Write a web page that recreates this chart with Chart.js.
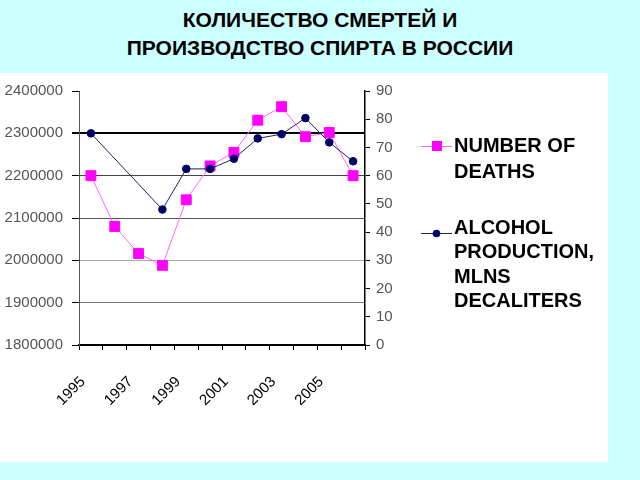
<!DOCTYPE html>
<html><head><meta charset="utf-8">
<script src="https://cdn.jsdelivr.net/npm/chart.js@4"></script>
<style>
html,body{margin:0;padding:0;background:#ccffff;width:640px;height:480px;overflow:hidden}
#title{position:absolute;left:0;top:6px;width:640px;text-align:center;font:bold 21px "Liberation Sans",Arial,sans-serif;line-height:28px;color:#000}
#panel{position:absolute;left:0;top:73px;width:608px;height:389px;background:#fff}
canvas{position:absolute;left:0;top:0}
</style></head><body>
<div id="title">КОЛИЧЕСТВО СМЕРТЕЙ И<br>ПРОИЗВОДСТВО СПИРТА В РОССИИ</div>
<div id="panel"><canvas id="c" width="608" height="389"></canvas></div>
<script>
const years = ['1995','1996','1997','1998','1999','2000','2001','2002','2003','2004','2005','2006'];
const deaths = [2200000, 2080000, 2016000, 1988000, 2143000, 2223000, 2255000, 2331000, 2363000, 2292000, 2302000, 2200000];
const alcohol = [75, null, null, 48, 62.4, 62.4, 66, 73.2, 74.7, 80.4, 71.8, 65.1];
const deathsLegend = ['NUMBER OF', 'DEATHS'];
const alcoholLegend = ['ALCOHOL', 'PRODUCTION,', 'MLNS', 'DECALITERS'];

const PINK = '#ff00ff', NAVY = '#000066';

const gridColor = (v) => {
  if (v === 2400000) return 'rgba(0,0,0,0)';
  if (v === 2300000) return '#000';
  if (v === 2200000) return '#444';
  if (v === 2100000) return '#555';
  if (v === 2000000) return '#aaa';
  if (v === 1900000) return '#777';
  return '#000';
};

const legendPlugin = {
  id: 'customLegend',
  afterDraw(chart) {
    const ctx = chart.ctx;
    const entries = [
      {lines: deathsLegend, y: 73, color: '#ff66ff', fill: PINK, style: 'rect'},
      {lines: alcoholLegend, y: 160, color: '#202060', fill: NAVY, style: 'circle'}
    ];
    ctx.save();
    entries.forEach(e => {
      ctx.strokeStyle = e.color; ctx.lineWidth = 1;
      ctx.beginPath(); ctx.moveTo(421, e.y + 0.5); ctx.lineTo(452, e.y + 0.5); ctx.stroke();
      ctx.fillStyle = e.fill;
      if (e.style === 'rect') { ctx.fillRect(432, e.y - 5, 10, 10); }
      else { ctx.beginPath(); ctx.arc(436.5, e.y + 0.5, 3.8, 0, Math.PI * 2); ctx.fill(); }
      ctx.fillStyle = '#000';
      ctx.font = 'bold 20px "Liberation Sans", Arial, sans-serif';
      ctx.textBaseline = 'middle'; ctx.textAlign = 'left';
      const top = e.style === 'rect' ? e.y : e.y - 5;
      const lh = e.style === 'rect' ? 26 : 24.5;
      e.lines.forEach((t, i) => ctx.fillText(t, 454, top + i * lh));
    });
    ctx.restore();
  }
};

new Chart(document.getElementById('c'), {
  type: 'line',
  data: {
    labels: years,
    datasets: [
      {
        label: alcoholLegend.join(' '),
        data: alcohol,
        yAxisID: 'y2',
        borderColor: '#202060',
        backgroundColor: NAVY,
        pointBackgroundColor: NAVY,
        pointBorderColor: NAVY,
        borderWidth: 1,
        pointStyle: 'circle',
        pointRadius: 3.8,
        spanGaps: true,
        segment: { borderColor: c => (c.p0DataIndex === 0 ? '#808080' : undefined) }
      },
      {
        label: deathsLegend.join(' '),
        data: deaths,
        yAxisID: 'y',
        borderColor: '#ff66ff',
        backgroundColor: PINK,
        pointBackgroundColor: PINK,
        pointBorderColor: PINK,
        borderWidth: 1,
        pointStyle: 'rect',
        pointRadius: 7
      }
    ]
  },
  options: {
    responsive: false,
    animation: false,
    devicePixelRatio: 1,
    layout: { padding: { top: 17, left: 0, right: 213, bottom: 0 } },
    plugins: { legend: { display: false }, tooltip: { enabled: false } },
    elements: { line: { tension: 0 } },
    scales: {
      x: {
        offset: true,
        grid: { offset: true, drawOnChartArea: false, color: '#000', tickLength: 5 },
        border: { color: '#000', width: 1.5 },
        ticks: {
          autoSkip: false, minRotation: 45, maxRotation: 45,
          padding: 23, labelOffset: -8,
          color: '#000',
          font: { family: '"Liberation Sans", Arial, sans-serif', size: 15 },
          callback: function(v, i) { return i % 2 === 0 ? this.getLabelForValue(v) : ''; }
        },
        afterFit: s => { s.height = 117; }
      },
      y: {
        position: 'left',
        min: 1800000, max: 2400000,
        ticks: {
          stepSize: 100000, padding: 9, color: '#555',
          font: { family: '"Liberation Sans", Arial, sans-serif', size: 15 },
          callback: v => String(v)
        },
        grid: {
          color: c => gridColor(c.tick.value),
          lineWidth: c => (c.tick.value === 2300000 ? 2 : 1),
          tickColor: '#000', tickLength: 7
        },
        border: { color: '#555', width: 1 },
        afterFit: s => { s.width = 79; }
      },
      y2: {
        position: 'right',
        min: 0, max: 90,
        ticks: {
          stepSize: 10, padding: 6, color: '#555',
          font: { family: '"Liberation Sans", Arial, sans-serif', size: 15 }
        },
        grid: { drawOnChartArea: false, color: '#000', tickLength: 5 },
        border: { color: '#000', width: 1.5 },
        afterFit: s => { s.width = 30; }
      }
    }
  },
  plugins: [legendPlugin]
});
</script>
</body></html>
